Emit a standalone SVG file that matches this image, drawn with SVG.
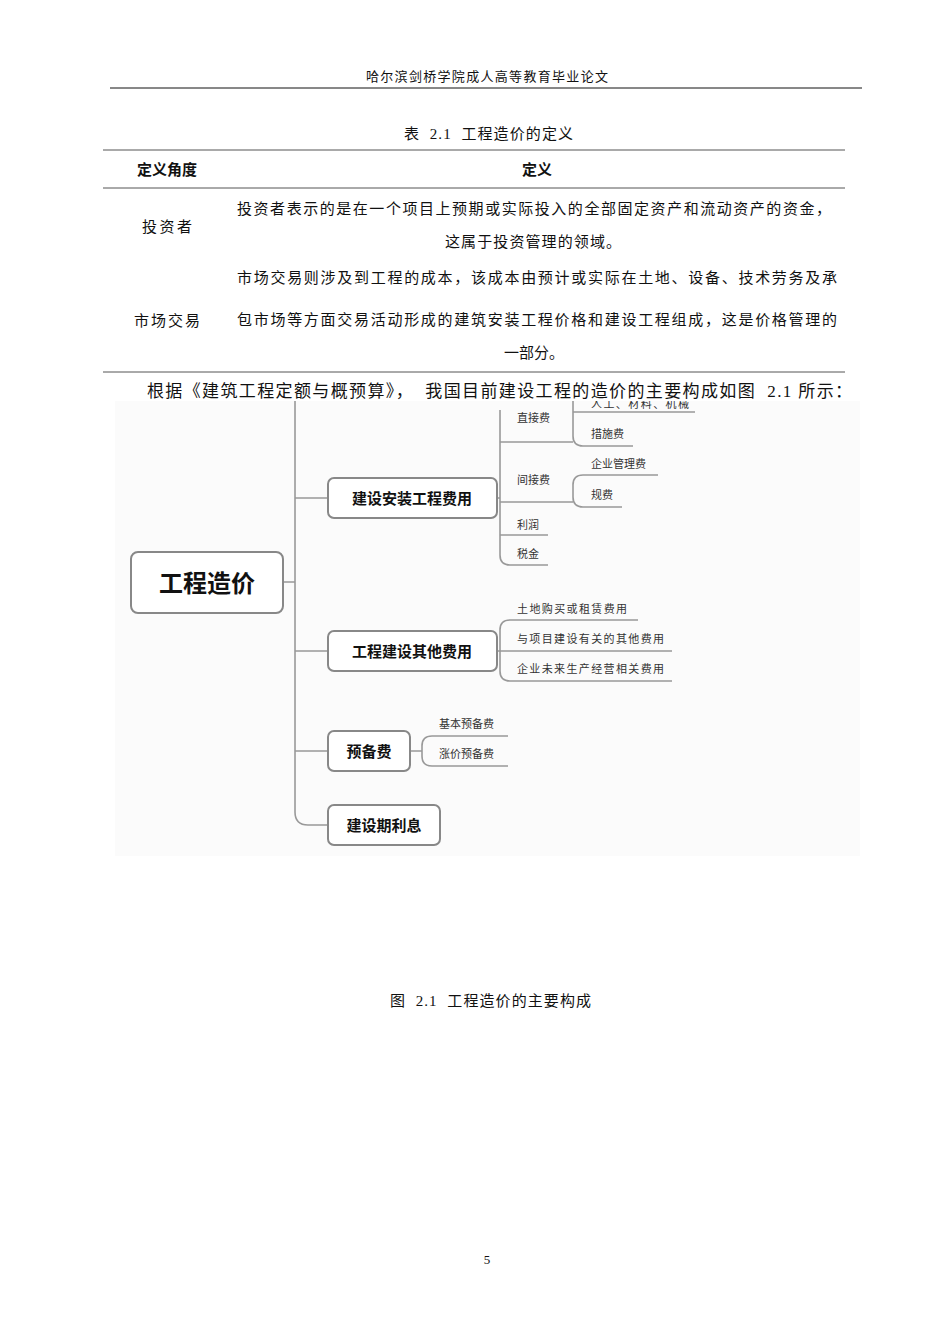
<svg xmlns="http://www.w3.org/2000/svg" width="950" height="1344" viewBox="0 0 950 1344">
<style>
.s{font-family:"Liberation Serif","Noto Sans CJK SC",serif;fill:#111}
.h{font-family:"Noto Sans CJK SC",sans-serif;font-weight:bold;fill:#111}
.m{font-family:"Noto Sans CJK SC",sans-serif;fill:#333}
.b{fill:#fff;stroke:#888;stroke-width:2}
.c{fill:none;stroke:#999;stroke-width:1.6}
</style>
<defs><clipPath id="cp"><rect x="115" y="401" width="745" height="455"/></clipPath></defs>
<rect width="950" height="1344" fill="#fff"/>
<text class="s" x="366" y="81" font-size="13" textLength="242">哈尔滨剑桥学院成人高等教育毕业论文</text>
<line x1="110" y1="88" x2="862" y2="88" stroke="#111"/>
<text class="s" x="404" y="139" font-size="15" textLength="169" xml:space="preserve">表  2.1  工程造价的定义</text>
<g stroke="#555"><line x1="103" y1="150" x2="845" y2="150"/><line x1="103" y1="188" x2="845" y2="188"/><line x1="103" y1="372" x2="845" y2="372"/></g>
<text class="h" x="167" y="175" font-size="15" text-anchor="middle">定义角度</text>
<text class="h" x="537" y="175" font-size="15" text-anchor="middle">定义</text>
<text class="s" x="142" y="232" font-size="15" textLength="50">投资者</text>
<text class="s" x="237" y="214" font-size="15" textLength="594">投资者表示的是在一个项目上预期或实际投入的全部固定资产和流动资产的资金，</text>
<text class="s" x="445" y="247" font-size="15" textLength="176">这属于投资管理的领域。</text>
<text class="s" x="134" y="326" font-size="15" textLength="66">市场交易</text>
<text class="s" x="237" y="283" font-size="15" textLength="600">市场交易则涉及到工程的成本，该成本由预计或实际在土地、设备、技术劳务及承</text>
<text class="s" x="237" y="325" font-size="15" textLength="600">包市场等方面交易活动形成的建筑安装工程价格和建设工程组成，这是价格管理的</text>
<text class="s" x="504" y="358" font-size="15" textLength="60">一部分。</text>
<rect x="115" y="401" width="745" height="455" fill="#fbfbfb"/>
<g clip-path="url(#cp)">
<g id="connectors">
<path class="c" d="M283 582H295M295 380V812Q295 825 308 825H328M295 498H328M295 651H328M295 751H328"/>
<path class="c" d="M497 498H500M500 410V555Q500 565 510 565H548M500 442H570M500 502H570M500 535H548"/>
<path class="c" d="M570 442H573M573 400V436Q573 446 583 446H633M573 412H695"/>
<path class="c" d="M570 502H573M573 485Q573 475 583 475H658M573 485V497Q573 507 583 507H622"/>
<path class="c" d="M497 651H672M500 651V630Q500 620 510 620H638M500 651V671Q500 681 510 681H672"/>
<path class="c" d="M410 751H422M422 751V746Q422 736 432 736H508M422 751V756Q422 766 432 766H508"/>
</g>
<g id="root"><rect class="b" x="131" y="552" width="152" height="61" rx="7"/><text class="h" x="207" y="592" font-size="24" text-anchor="middle">工程造价</text></g>
<g id="n1"><rect class="b" x="328" y="478" width="169" height="40" rx="6"/><text class="h" x="412" y="504" font-size="15" text-anchor="middle">建设安装工程费用</text></g>
<g id="n2"><rect class="b" x="328" y="631" width="169" height="40" rx="6"/><text class="h" x="412" y="657" font-size="15" text-anchor="middle">工程建设其他费用</text></g>
<g id="n3"><rect class="b" x="328" y="731" width="82" height="40" rx="6"/><text class="h" x="369" y="757" font-size="15" text-anchor="middle">预备费</text></g>
<g id="n4"><rect class="b" x="328" y="805" width="112" height="40" rx="6"/><text class="h" x="384" y="831" font-size="15" text-anchor="middle">建设期利息</text></g>
<g id="leaves" class="m" font-size="11">
<text x="517" y="422">直接费</text><text x="517" y="484">间接费</text><text x="517" y="529">利润</text><text x="517" y="558">税金</text>
<text x="591" y="408" textLength="98">人工、材料、机械</text><text x="591" y="438">措施费</text>
<text x="591" y="468">企业管理费</text><text x="591" y="499">规费</text>
<text x="517" y="613" textLength="110">土地购买或租赁费用</text><text x="517" y="643" textLength="147">与项目建设有关的其他费用</text><text x="517" y="673" textLength="147">企业未来生产经营相关费用</text>
<text x="439" y="728">基本预备费</text><text x="439" y="758">涨价预备费</text>
</g>
</g>
<text class="s" x="147" y="397" font-size="17" textLength="705" xml:space="preserve">根据《建筑工程定额与概预算》，  我国目前建设工程的造价的主要构成如图  2.1 所示：</text>
<text class="s" x="390" y="1006" font-size="15" textLength="201" xml:space="preserve">图  2.1  工程造价的主要构成</text>
<text class="s" x="487" y="1264" font-size="13" text-anchor="middle">5</text>
</svg>
